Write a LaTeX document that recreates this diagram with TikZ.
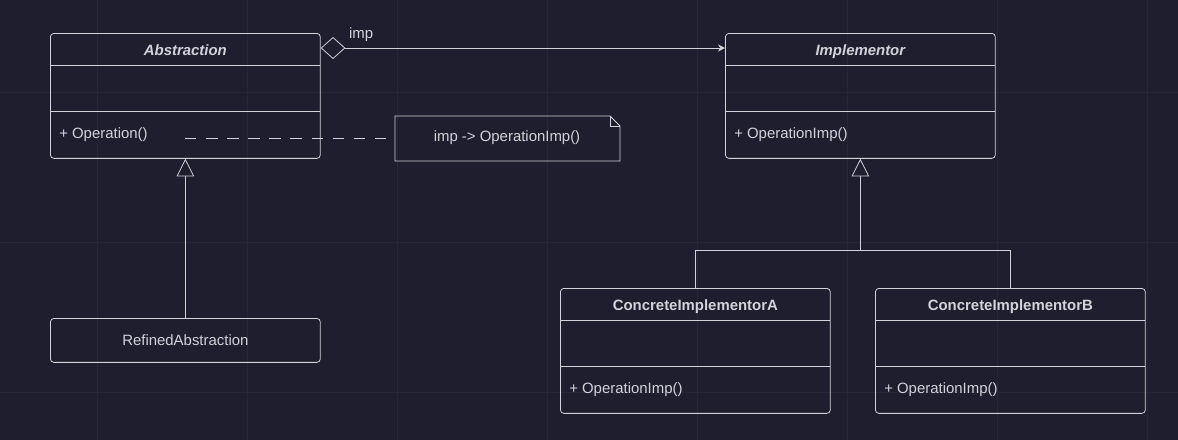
\documentclass[tikz,border=0pt]{standalone}
\usepackage{fontspec}
\setmainfont{Liberation Sans}
\usetikzlibrary{arrows.meta,calc,positioning,shapes.misc}
\definecolor{bg}{RGB}{30,30,46}
\definecolor{ink}{RGB}{210,210,218}
\definecolor{gridc}{RGB}{38,38,54}
\begin{document}
\begin{tikzpicture}[
    x=0.02cm,y=-0.02cm,
    line width=0.45pt,
    cls/.style={draw=ink,rounded corners=2pt,anchor=north west,inner sep=0pt,
      minimum width=5.4cm,minimum height=2.5cm},
    small cls/.style={cls,minimum height=0.88cm},
    title/.style={text=ink,font=\fontsize{8.5}{10}\selectfont\bfseries,below=0.1cm},
    member/.style={text=ink,font=\fontsize{8.5}{10}\selectfont,anchor=west},
    help lines/.style={draw=gridc,line width=0.4pt}
  ]
  \fill[bg] (0,0) rectangle (1178,440);
  \useasboundingbox (0,0) rectangle (1178,440);
  \foreach \x in {97,247,...,1178} \draw[help lines] (\x,0) -- (\x,440);
  \foreach \y in {92,242,392} \draw[help lines] (0,\y) -- (1178,\y);
  % classes
  \node[cls] (abs) at (50,33) {};
  \node[cls] (imp) at (725,33) {};
  \node[cls] (ca) at (560,288) {};
  \node[cls] (cb) at (875,288) {};
  \node[small cls] (ref) at (50,318) {};
  \node[text=ink,font=\fontsize{8.5}{10}\selectfont] at (ref.center) {RefinedAbstraction};
  \node[title,font=\fontsize{8.5}{10}\selectfont\bfseries\itshape] at (abs.north) {Abstraction};
  \node[title,font=\fontsize{8.5}{10}\selectfont\bfseries\itshape] at (imp.north) {Implementor};
  \node[title] at (ca.north) {ConcreteImplementorA};
  \node[title] at (cb.north) {ConcreteImplementorB};
  \foreach \c in {abs,imp,ca,cb} {
    \draw[ink] ($(\c.north west)+(0,32)$) -- ++(270,0);
    \draw[ink] ($(\c.north west)+(0,78)$) -- ++(270,0);
  }
  \node[member] (op) at ($(abs.north west)+(3,102)$) {+ Operation()};
  \node[member] at ($(imp.north west)+(3,102)$) {+ OperationImp()};
  \node[member] at ($(ca.north west)+(3,102)$) {+ OperationImp()};
  \node[member] at ($(cb.north west)+(3,102)$) {+ OperationImp()};
  % note
  \coordinate (nt) at (395,116);
  \draw[ink] (nt) -- ++(215,0) -- ++(10,10) -- ++(0,35) -- ++(-225,0) -- cycle;
  \draw[ink] ($(nt)+(215,0)$) -- ++(0,10) -- ++(10,0);
  \node[text=ink,font=\fontsize{8.5}{10}\selectfont] (note) at (507,138) {imp -> OperationImp()};
  \draw[ink,dash pattern=on 6.5pt off 5.5pt] (185,138) -- (nt |- 0,138);
  % relations
  \draw[ink,{Diamond[open,length=14pt,width=12.5pt]}-{Stealth[length=4pt,width=4pt]}]
    (abs.north east |- 0,48) -- node[above,pos=0.1,text=ink,font=\fontsize{8.5}{10}\selectfont] {imp} (imp.north west |- 0,48);
  \draw[ink,-{Triangle[open,length=10pt,width=10pt]}] (ref.north) -- (abs.south);
  \coordinate (j) at (imp.south |- 0,250);
  \draw[ink,-{Triangle[open,length=10pt,width=10pt]}] (j) -- (imp.south);
  \draw[ink] (ca.north -| 695,0) -- (695,250) -- (1010,250) -- (cb.north -| 1010,0);
\end{tikzpicture}
\end{document}
